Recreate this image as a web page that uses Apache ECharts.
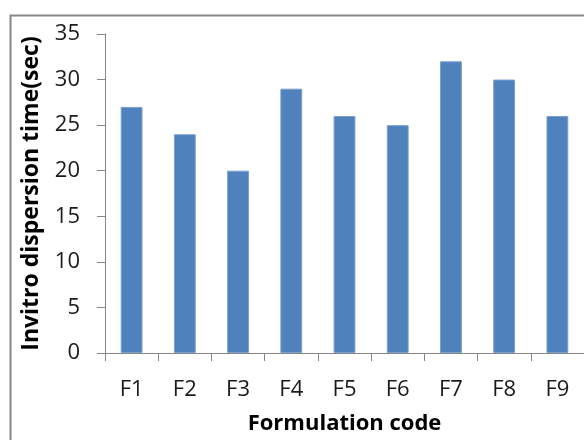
<!DOCTYPE html>
<html>
<head>
<meta charset="utf-8">
<script src="https://cdn.jsdelivr.net/npm/echarts@6/dist/echarts.min.js"></script>
<style>html,body{margin:0;padding:0;background:#fff}#c{width:584px;height:440px}</style>
</head>
<body>
<div id="c"></div>
<script>
const categories = ['F1','F2','F3','F4','F5','F6','F7','F8','F9'];
const dispersionTime = [27, 24, 20, 29, 26, 25, 32, 30, 26];
const yTicks = { min: 0, max: 35, interval: 5 };
const xTitle = 'Formulation code';
const yTitle = 'Invitro dispersion time(sec)';

const chart = echarts.init(document.getElementById('c'), null, {renderer:'canvas'});
const font = 'Open Sans';
chart.setOption({
  animation: false,
  backgroundColor: '#fff',
  graphic: [{
    type: 'rect', left: 8, top: 13, z: -1,
    shape: { x: 0, y: 0, width: 700, height: 600 },
    style: { fill: 'none', stroke: '#878787', lineWidth: 2 }
  }],
  grid: { left: 105, top: 34, width: 480, bottom: 85 },
  xAxis: {
    type: 'category',
    data: categories,
    name: xTitle,
    nameLocation: 'middle',
    nameGap: 60,
    nameTextStyle: { fontFamily: font, fontWeight: 'bold', fontSize: 22, color: '#000' },
    axisLine: { lineStyle: { color: '#868686', width: 1 } },
    axisTick: { show: true, length: 8, alignWithLabel: false, lineStyle: { color: '#868686' } },
    axisLabel: { fontFamily: font, fontSize: 22, color: '#1a1a1a', margin: 26 }
  },
  yAxis: {
    type: 'value',
    min: yTicks.min, max: yTicks.max, interval: yTicks.interval,
    name: yTitle,
    nameLocation: 'middle',
    nameGap: 62,
    nameTextStyle: { fontFamily: font, fontWeight: 'bold', fontSize: 23, color: '#000' },
    splitLine: { show: false },
    axisLine: { show: true, lineStyle: { color: '#868686', width: 1 } },
    axisTick: { show: true, length: 8, lineStyle: { color: '#868686' } },
    axisLabel: { fontFamily: font, fontSize: 22, color: '#1a1a1a', margin: 25 }
  },
  series: [{
    type: 'bar',
    data: dispersionTime,
    barWidth: '41%',
    itemStyle: { color: '#4F81BD', borderColor: '#7a9fd0', borderWidth: 1 }
  }]
});
</script>
</body>
</html>
